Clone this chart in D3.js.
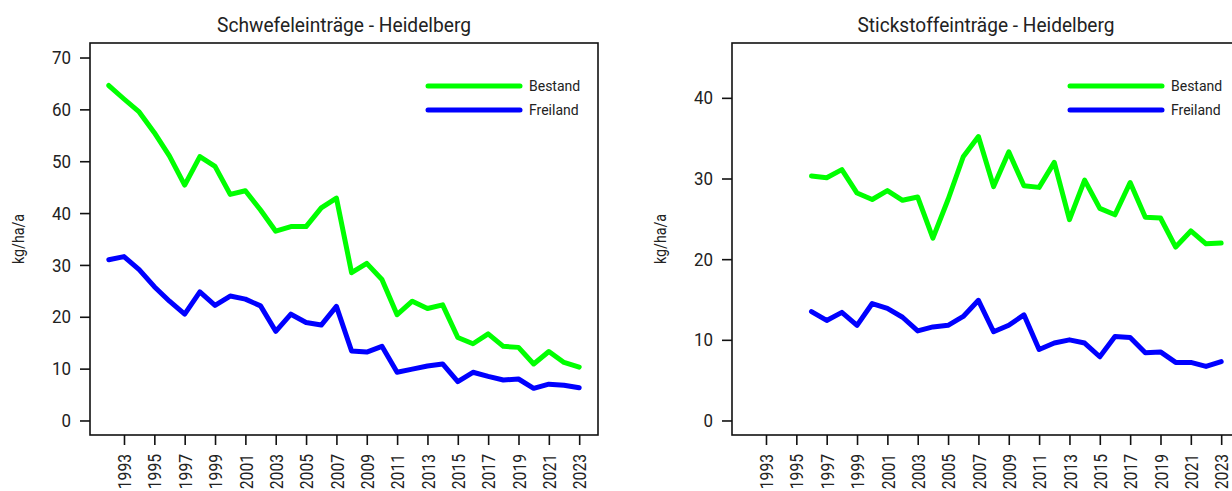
<!DOCTYPE html>
<html>
<head>
<meta charset="utf-8">
<script src="https://cdn.jsdelivr.net/npm/d3@7"></script>
<style>
  body { margin: 0; background: #fff; }
  svg text { font-family: Roboto, "Liberation Sans", sans-serif; fill: #222; }
</style>
</head>
<body>
<div id="chart"></div>
<script>
// Schwefel (left panel), 1992-2023
const yearsS = d3.range(1992, 2024);
const schwefelBestand = [64.6, 62.0, 59.5, 55.5, 51.0, 45.4, 50.9, 49.0, 43.6, 44.3, 40.6, 36.5, 37.4, 37.4, 41.0, 42.9,
  28.5, 30.3, 27.2, 20.4, 23.0, 21.6, 22.3, 16.0, 14.8, 16.7, 14.3, 14.1, 10.9, 13.3, 11.2, 10.3];
const schwefelFreiland = [31.0, 31.6, 29.1, 25.8, 23.0, 20.5, 24.8, 22.2, 24.0, 23.4, 22.1, 17.2, 20.5, 18.9, 18.4, 22.0,
  13.4, 13.2, 14.3, 9.3, 9.9, 10.5, 10.9, 7.5, 9.3, 8.5, 7.8, 8.0, 6.2, 7.0, 6.8, 6.3];

// Stickstoff (right panel), 1996-2023
const yearsN = d3.range(1996, 2024);
const stickBestand = [30.3, 30.1, 31.1, 28.2, 27.4, 28.5, 27.3, 27.7, 22.6, 27.4, 32.7, 35.2, 29.0, 33.3,
  29.1, 28.9, 32.0, 24.9, 29.8, 26.3, 25.5, 29.5, 25.2, 25.1, 21.5, 23.5, 21.9, 22.0];
const stickFreiland = [13.5, 12.4, 13.4, 11.8, 14.5, 13.9, 12.8, 11.1, 11.6, 11.8, 12.9, 14.9, 11.0, 11.8,
  13.1, 8.8, 9.6, 10.0, 9.6, 7.9, 10.4, 10.3, 8.4, 8.5, 7.2, 7.2, 6.7, 7.3];

const tickYears = d3.range(1993, 2024, 2);
const seriesNames = ["Bestand", "Freiland"];
const seriesColors = ["#00ff00", "#0000ff"];

const W = 1232, H = 491;
const boxTop = 43, boxBottom = 435, boxW = 508;

const svg = d3.select("#chart").append("svg")
  .attr("width", W)
  .attr("height", H);

// the original uses a narrow font, so squeeze the glyphs a bit
function narrow(sel, perChar) {
  sel.attr("lengthAdjust", "spacingAndGlyphs")
    .attr("textLength", function () { return this.textContent.length * perChar; });
}

function drawPanel(left, title, titleLen, years, bestand, freiland, ymax, yticks) {
  const g = svg.append("g");

  // R style: range padded by 4% on each side
  const x = d3.scaleLinear()
    .domain([1992 - 31 * 0.04, 2023 + 31 * 0.04])
    .range([left, left + boxW]);
  const y = d3.scaleLinear()
    .domain([-ymax * 0.04, ymax * 1.04])
    .range([boxBottom, boxTop]);

  g.append("rect")
    .attr("x", left)
    .attr("y", boxTop)
    .attr("width", boxW)
    .attr("height", boxBottom - boxTop)
    .attr("fill", "none")
    .attr("stroke", "#111")
    .attr("stroke-width", 1.6);

  const yAxis = g.append("g")
    .attr("transform", "translate(" + left + ",0)")
    .call(d3.axisLeft(y).tickValues(yticks).tickSize(10).tickPadding(9).tickFormat(d3.format("d")));
  yAxis.select(".domain").remove();
  yAxis.selectAll("line").attr("stroke", "#111").attr("stroke-width", 1.6);
  yAxis.selectAll("text").attr("font-size", 19).attr("fill", "#222").call(narrow, 9.5);

  const xAxis = g.append("g")
    .attr("transform", "translate(0," + boxBottom + ")")
    .call(d3.axisBottom(x).tickValues(tickYears).tickSize(10).tickFormat(d3.format("d")));
  xAxis.select(".domain").remove();
  xAxis.selectAll("line").attr("stroke", "#111").attr("stroke-width", 1.6);
  xAxis.selectAll("text")
    .attr("font-size", 19)
    .attr("fill", "#222")
    .attr("text-anchor", "end")
    .attr("transform", "rotate(-90)")
    .attr("x", -19)
    .attr("y", 0)
    .attr("dy", "0.35em")
    .call(narrow, 8.8);

  g.append("text")
    .attr("x", left + boxW / 2)
    .attr("y", 32)
    .attr("text-anchor", "middle")
    .attr("font-size", 21)
    .attr("lengthAdjust", "spacingAndGlyphs")
    .attr("textLength", titleLen)
    .text(title);

  g.append("text")
    .attr("transform", "translate(" + (left - 66) + "," + ((boxTop + boxBottom) / 2) + ") rotate(-90)")
    .attr("text-anchor", "middle")
    .attr("font-size", 16)
    .attr("lengthAdjust", "spacingAndGlyphs")
    .attr("textLength", 50)
    .text("kg/ha/a");

  const line = d3.line()
    .x(function (d) { return x(d[0]); })
    .y(function (d) { return y(d[1]); });

  [bestand, freiland].forEach(function (vals, i) {
    g.append("path")
      .datum(years.map(function (yr, j) { return [yr, vals[j]]; }))
      .attr("d", line)
      .attr("fill", "none")
      .attr("stroke", seriesColors[i])
      .attr("stroke-width", 5)
      .attr("stroke-linejoin", "round")
      .attr("stroke-linecap", "round");
  });

  // legend
  seriesNames.forEach(function (name, i) {
    const ly = 86 + i * 24;
    g.append("line")
      .attr("x1", left + 338)
      .attr("x2", left + 430)
      .attr("y1", ly)
      .attr("y2", ly)
      .attr("stroke", seriesColors[i])
      .attr("stroke-width", 5)
      .attr("stroke-linecap", "round");
    g.append("text")
      .attr("x", left + 439)
      .attr("y", ly)
      .attr("dy", "0.35em")
      .attr("font-size", 14)
      .call(narrow, 6.3)
      .text(name);
  });
}

drawPanel(90, "Schwefeleinträge - Heidelberg", 254, yearsS, schwefelBestand, schwefelFreiland, 70, d3.range(0, 71, 10));
drawPanel(732, "Stickstoffeinträge - Heidelberg", 257, yearsN, stickBestand, stickFreiland, 45, d3.range(0, 41, 10));
</script>
</body>
</html>
